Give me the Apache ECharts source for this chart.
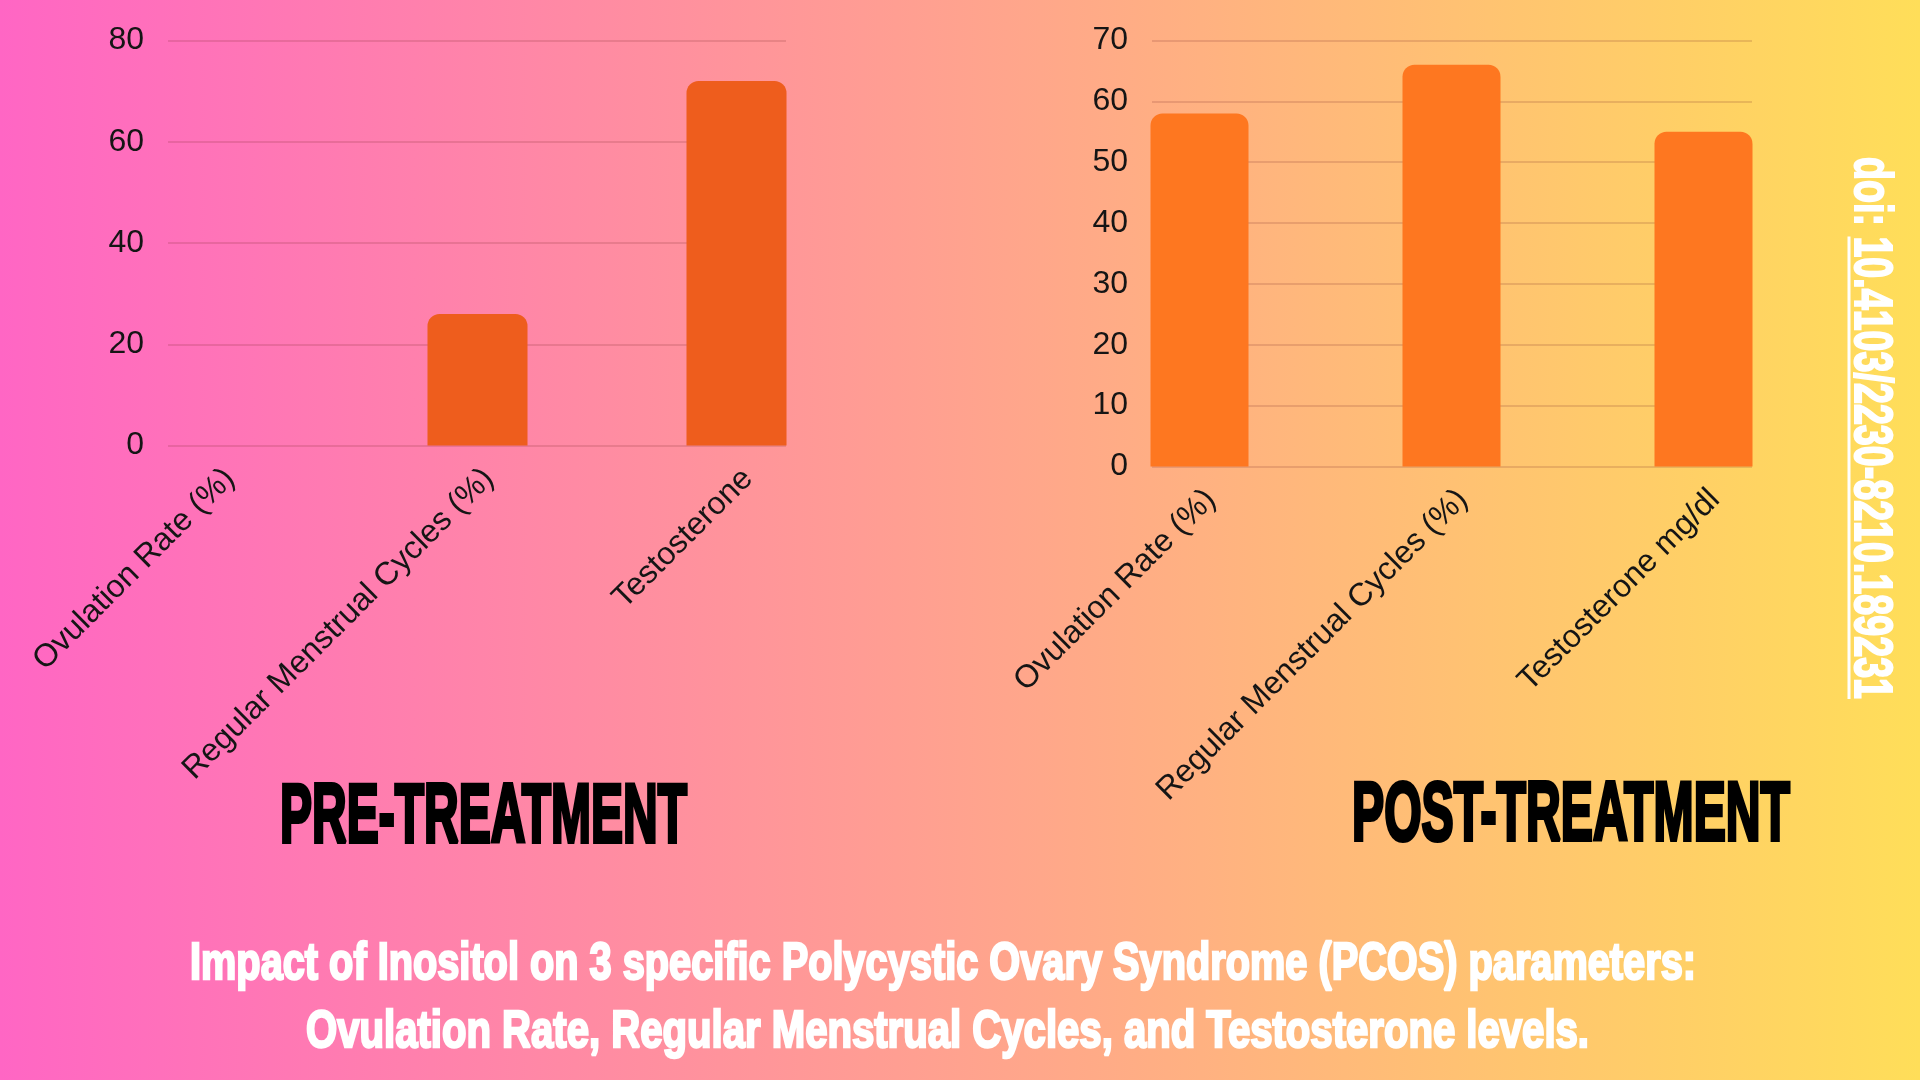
<!DOCTYPE html>
<html>
<head>
<meta charset="utf-8">
<script src="https://cdn.jsdelivr.net/npm/echarts@6/dist/echarts.min.js"></script>
<style>
html,body{margin:0;padding:0;width:1920px;height:1080px;overflow:hidden;}
#main{width:1920px;height:1080px;}
</style>
</head>
<body>
<div id="main"></div>
<script>
// ---- data ----
const categoriesPre = ['Ovulation Rate (%)', 'Regular Menstrual Cycles (%)', 'Testosterone'];
const valuesPre = [0, 26, 72];
const categoriesPost = ['Ovulation Rate (%)', 'Regular Menstrual Cycles (%)', 'Testosterone mg/dl'];
const valuesPost = [58, 66, 55];
const yPre = {min: 0, max: 80, interval: 20};
const yPost = {min: 0, max: 70, interval: 10};
const titlePre = 'PRE-TREATMENT';
const titlePost = 'POST-TREATMENT';
const captionLine1 = 'Impact of Inositol on 3 specific Polycystic Ovary Syndrome (PCOS) parameters:';
const captionLine2 = 'Ovulation Rate, Regular Menstrual Cycles, and Testosterone levels.';
const doiPrefix = 'doi: ';
const doiValue = '10.4103/2230-8210.189231';

// ---- helpers ----
const FONT = '"Liberation Sans", Arial, sans-serif';
const mctx = document.createElement('canvas').getContext('2d');
function textW(text, font) {
  mctx.font = font;
  return mctx.measureText(text).width;
}
function condensedText(text, cx, cy, size, targetW, color, rotation, strokeW) {
  const font = 'bold ' + size + 'px ' + FONT;
  return {
    type: 'text', x: cx, y: cy, rotation: rotation || 0,
    scaleX: targetW / textW(text, font), scaleY: 1,
    silent: true,
    style: {
      text: text, font: font, fill: color,
      stroke: color, lineWidth: strokeW || 0,
      align: 'center', verticalAlign: 'middle',
      textAlign: 'center', textVerticalAlign: 'middle'
    }
  };
}

const chart = echarts.init(document.getElementById('main'), null, {renderer: 'canvas', width: 1920, height: 1080});

const gridLine = {lineStyle: {color: 'rgba(120,35,40,0.22)', width: 1.5}};
const tickLabel = {fontSize: 32, color: '#151515', fontFamily: FONT, margin: 24, padding: [5, 0, 0, 0]};
const catLabel = {rotate: 45, margin: 17, verticalAlign: 'top', fontSize: 32, color: '#151515', fontFamily: FONT, interval: 0};

// doi vertical text geometry
const doiFull = doiPrefix + doiValue;
const doiFont = 'bold 54px ' + FONT;
const doiTop = 157, doiLen = 542;
const doiScale = doiLen / textW(doiFull, doiFont);
const ulStart = doiTop + textW(doiPrefix, doiFont) * doiScale;
const ulEnd = doiTop + doiLen;

chart.setOption({
  backgroundColor: new echarts.graphic.LinearGradient(0, 0, 1, 0, [
    {offset: 0, color: '#ff66c4'},
    {offset: 1, color: '#ffde59'}
  ]),
  animation: false,
  grid: [
    {left: 168, top: 40.5, width: 618, height: 405},
    {left: 89, top: 40.5, width: 777, height: 405},
    {left: 1152, top: 40.5, width: 600, height: 426},
    {left: 1073.5, top: 40.5, width: 756, height: 426}
  ],
  xAxis: [
    {gridIndex: 0, type: 'category', data: categoriesPre, show: false},
    {gridIndex: 1, type: 'category', data: categoriesPre, axisLine: {show: false}, axisTick: {show: false}, axisLabel: catLabel},
    {gridIndex: 2, type: 'category', data: categoriesPost, show: false},
    {gridIndex: 3, type: 'category', data: categoriesPost, axisLine: {show: false}, axisTick: {show: false}, axisLabel: catLabel}
  ],
  yAxis: [
    {gridIndex: 0, type: 'value', min: yPre.min, max: yPre.max, interval: yPre.interval,
      axisLine: {show: false}, axisTick: {show: false}, axisLabel: tickLabel, splitLine: gridLine},
    {gridIndex: 1, type: 'value', min: yPre.min, max: yPre.max, interval: yPre.interval, show: false},
    {gridIndex: 2, type: 'value', min: yPost.min, max: yPost.max, interval: yPost.interval,
      axisLine: {show: false}, axisTick: {show: false}, axisLabel: tickLabel, splitLine: gridLine},
    {gridIndex: 3, type: 'value', min: yPost.min, max: yPost.max, interval: yPost.interval, show: false}
  ],
  series: [
    {type: 'bar', xAxisIndex: 1, yAxisIndex: 1, data: valuesPre, barWidth: 100,
      itemStyle: {color: '#ee5d1d', borderRadius: [12, 12, 0, 0]}},
    {type: 'bar', xAxisIndex: 3, yAxisIndex: 3, data: valuesPost, barWidth: 98,
      itemStyle: {color: '#fe7720', borderRadius: [12, 12, 0, 0]}}
  ],
  graphic: [
    condensedText(titlePre, 483.5, 819, 84, 407, '#000000', 0, 4),
    condensedText(titlePost, 1571, 817, 84, 438, '#000000', 0, 4),
    condensedText(captionLine1, 943, 965, 52, 1506, '#ffffff', 0, 2.5),
    condensedText(captionLine2, 947.5, 1033, 52, 1283, '#ffffff', 0, 2.5),
    condensedText(doiFull, 1870, doiTop + doiLen / 2, 54, doiLen, '#ffffff', -Math.PI / 2, 2),
    {type: 'line', silent: true, shape: {x1: 1849, y1: ulStart, x2: 1849, y2: ulEnd},
      style: {stroke: '#ffffff', lineWidth: 3}}
  ]
});
</script>
</body>
</html>
